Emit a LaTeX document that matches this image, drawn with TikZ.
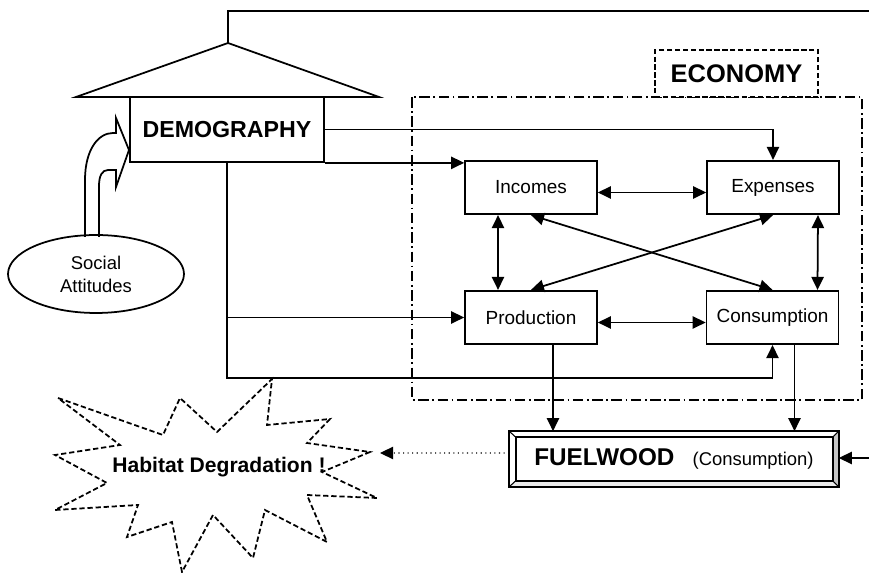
\documentclass[tikz,border=0pt]{standalone}
\usepackage{fontspec}
\setmainfont{Liberation Sans}
\usetikzlibrary{arrows.meta,shapes.geometric,calc}

\begin{document}
\begin{tikzpicture}[x=0.02cm,y=-0.02cm,line width=1pt,
  arr/.style={-{Triangle[length=7.4pt,width=7pt]}},
  dbl/.style={{Triangle[length=7.4pt,width=7pt]}-{Triangle[length=7.4pt,width=7pt]}},
  unit/.style={draw,minimum width=2.64cm,minimum height=1.07cm,inner sep=0pt,
    font=\fontsize{10.8}{13}\selectfont},
  bigtxt/.style={font=\bfseries\fontsize{13.2}{16}\selectfont}]
\useasboundingbox (0,0) rectangle (869,573);

% Marking box DEMOGRAPHY with its roof
\node[draw,bigtxt,minimum width=3.88cm,minimum height=1.3cm,inner sep=0pt] (demo) at (227,129.5) {DEMOGRAPHY};%
\coordinate (apex) at (228,43);%
\draw (76,97) -- (apex) -- (379,97) -- cycle;%
\coordinate (topright) at (869,11);%
\draw (apex) |- (topright);%

% Marking the ECONOMY frame
\draw[dash pattern=on 6pt off 2pt on 1pt off 2pt,line width=0.7pt] (412,97) rectangle (862,400);%
\node[draw,font=\bfseries\fontsize{14.5}{17}\selectfont,dash pattern=on 3pt off 1.5pt,fill=white,
  minimum width=3.26cm,minimum height=0.94cm,inner sep=0pt] (econ) at (736.5,73.5) {ECONOMY};%

% Marking the four units
\node[unit] (incomes) at (531,187.5) {Incomes};%
\node[unit] (expenses) at (773,187.5) {Expenses};%
\node[unit] (production) at (531,317.5) {Production};%
\node[unit] (consumption) at (772.5,317.5) {Consumption};%

% Marking ellipse Social Attitudes
\node[draw,ellipse,minimum width=3.52cm,minimum height=1.56cm,inner sep=0pt,align=center,
  font=\fontsize{10.5}{13}\selectfont] (social) at (96,274) {Social\\Attitudes};%

% Drawing bent arrow Social Attitudes -> DEMOGRAPHY
\draw (85,237) -- (85,180) .. controls (85,150) and (98,133) .. (113,133) -- (116,133) -- (116,118)
  -- (129,150) -- (116,187) -- (116,170) -- (108,170) .. controls (102,170) and (99,176) .. (99,186) -- (99,237);%

% Marking box FUELWOOD
\node[minimum width=6.56cm,minimum height=1.08cm,inner sep=0pt] (fuel) at (674,459)
  {\bfseries\fontsize{13.8}{16}\selectfont FUELWOOD\hspace{0.75em}\mdseries\fontsize{10.5}{12}\selectfont(Consumption)};%
\coordinate (fi-sw) at ($(fuel.south west)+(0.13cm,0.12cm)$);%
\coordinate (fi-ne) at ($(fuel.north east)+(-0.12cm,-0.12cm)$);%
\coordinate (fi-nw) at (fi-sw |- fi-ne);%
\coordinate (fi-se) at (fi-ne |- fi-sw);%
\fill[gray!45] (fuel.north east) -- (fuel.south east) -- (fi-se) -- (fi-ne) -- cycle;%
\fill[gray!15] (fuel.south west) -- (fuel.south east) -- (fi-se) -- (fi-sw) -- cycle;%
\draw (fuel.south west) rectangle (fuel.north east);%
\draw (fi-sw) rectangle (fi-ne);%
\draw[line width=0.6pt] (fuel.south west) -- (fi-sw) (fuel.south east) -- (fi-se)
  (fuel.north west) -- (fi-nw) (fuel.north east) -- (fi-ne);%

% Marking star Habitat Degradation
\draw[dash pattern=on 3pt off 1.6pt] (58,398) -- (163,435) -- (180,398) -- (217,432) -- (272,379)
  -- (267,425) -- (330,419) -- (307,443) -- (370,452) -- (322,472) -- (377,498) -- (307,495)
  -- (327,542) -- (265,510) -- (253,558) -- (213,515) -- (182,572) -- (172,522) -- (127,537)
  -- (138,505) -- (55,510) -- (107,483) -- (55,455) -- (120,445) -- cycle;%
\node[font=\bfseries\fontsize{12}{14}\selectfont] (habitat) at (219,467) {Habitat Degradation !};%

% Drawing links from DEMOGRAPHY
\draw[arr] (demo.east) -| (expenses.north);%
\draw[arr] (demo.south east) -- (demo.south east -| incomes.west);%
\coordinate (low) at (0,378);%
\draw[arr] (demo.south) -- (demo.south |- low) -| (consumption.south);%
\draw[arr] (demo.south |- production.west) -- (production.west);%

% Drawing links inside ECONOMY
\draw[dbl] ([yshift=-0.1cm]incomes.east) -- ([yshift=-0.1cm]expenses.west);%
\draw[dbl] ([yshift=-0.1cm]production.east) -- ([yshift=-0.1cm]consumption.west);%
\draw[dbl] ([xshift=-0.66cm]incomes.south) -- ([xshift=-0.66cm]production.north);%
\draw[dbl] ([xshift=0.9cm]expenses.south) -- ([xshift=0.9cm]consumption.north);%
\draw[dbl] (incomes.south) -- (consumption.north);%
\draw[dbl] (expenses.south) -- (production.north);%

% Drawing links to FUELWOOD
\draw[arr] ([xshift=0.44cm]production.south) coordinate (p1) -- (p1 |- fuel.north);%
\draw[arr] ([xshift=0.44cm]consumption.south) coordinate (c1) -- (c1 |- fuel.north);%
\coordinate (fin) at (869,458);%
\draw[arr] (fin) -- (fin -| fuel.east);%
\coordinate (hab) at (380,453);%
\draw[arr,dotted,line width=0.6pt] ([yshift=0.12cm]fuel.west) -- (hab);%
\end{tikzpicture}
\end{document}
